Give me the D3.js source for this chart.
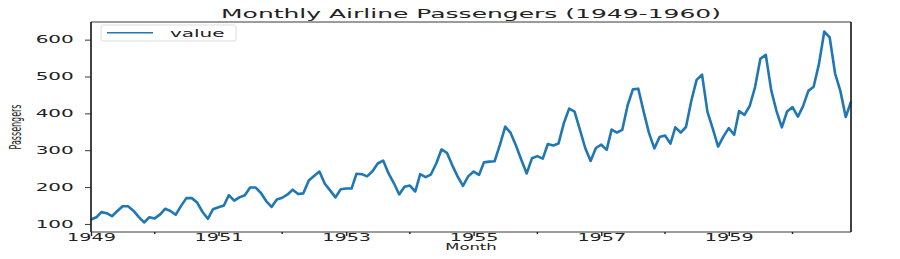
<!DOCTYPE html>
<html>
<head>
<meta charset="utf-8">
<script src="https://cdn.jsdelivr.net/npm/d3@7"></script>
<style>
  body { margin: 0; background: #fff; }
  svg { display: block; font-family: "DejaVu Sans", sans-serif; }
</style>
</head>
<body>
<svg id="chart"></svg>
<script>
// monthly totals, Jan 1949 .. Dec 1960
const years = [1949, 1950, 1951, 1952, 1953, 1954, 1955, 1956, 1957, 1958, 1959, 1960];
const passengers = [
  112, 118, 132, 129, 121, 135, 148, 148, 136, 119, 104, 118,
  115, 126, 141, 135, 125, 149, 170, 170, 158, 133, 114, 140,
  145, 150, 178, 163, 172, 178, 199, 199, 184, 162, 146, 166,
  171, 180, 193, 181, 183, 218, 230, 242, 209, 191, 172, 194,
  196, 196, 236, 235, 229, 243, 264, 272, 237, 211, 180, 201,
  204, 188, 235, 227, 234, 264, 302, 293, 259, 229, 203, 229,
  242, 233, 267, 269, 270, 315, 364, 347, 312, 274, 237, 278,
  284, 277, 317, 313, 318, 374, 413, 405, 355, 306, 271, 306,
  315, 301, 356, 348, 355, 422, 465, 467, 404, 347, 305, 336,
  340, 318, 362, 348, 363, 435, 491, 505, 404, 359, 310, 337,
  360, 342, 406, 396, 420, 472, 548, 559, 463, 407, 362, 405,
  417, 391, 419, 461, 472, 535, 622, 606, 508, 461, 390, 432
];
const majorYears = [1949, 1951, 1953, 1955, 1957, 1959];
const minorYears = [1950, 1952, 1954, 1956, 1958, 1960];
const yTicks = [100, 200, 300, 400, 500, 600];

const width = 900;
const height = 259;
const marginTop = 22;
const marginRight = 49;
const marginBottom = 27;
const marginLeft = 91;
const sx = 2; // the picture is stretched horizontally, text too

const data = passengers.map((v, i) => ({
  date: new Date(Date.UTC(years[0] + Math.floor(i / 12), i % 12, 1)),
  value: v
}));

const x = d3.scaleUtc()
  .domain(d3.extent(data, d => d.date))
  .range([marginLeft, width - marginRight]);
const pad = (d3.max(passengers) - d3.min(passengers)) * 0.05;
const y = d3.scaleLinear()
  .domain([d3.min(passengers) - pad, d3.max(passengers) + pad])
  .range([height - marginBottom, marginTop]);

const svg = d3.select("#chart")
  .attr("width", width)
  .attr("height", height)
  .attr("viewBox", [0, 0, width, height]);

const ink = "#222";
const bottom = height - marginBottom;

// data line
const line = d3.line()
  .x(d => x(d.date))
  .y(d => y(d.value));
svg.append("path")
  .attr("fill", "none")
  .attr("stroke", "#1f77b4")
  .attr("stroke-width", 2.6)
  .attr("stroke-linejoin", "round")
  .attr("d", line(data));

// x axis: labelled odd years, small ticks on even years
const yr = v => new Date(Date.UTC(v, 0, 1));
const xAxis = svg.append("g")
  .attr("transform", `translate(0,${bottom})`)
  .call(d3.axisBottom(x).tickValues(majorYears.map(yr)).tickFormat(d3.utcFormat("%Y")).tickSize(4).tickSizeOuter(0));
xAxis.select(".domain").remove();
xAxis.selectAll(".tick line").attr("stroke", ink).attr("stroke-width", 1.4);
xAxis.selectAll(".tick text")
  .attr("y", 9.5).attr("dy", 0)
  .attr("transform", `scale(${sx},1)`)
  .attr("x", 0)
  .attr("fill", ink).attr("font-size", 9.6).attr("font-family", "DejaVu Sans");
xAxis.selectAll(".tick text").each(function() {
  // keep label centred on the tick after stretching
  const t = d3.select(this);
  t.attr("text-anchor", "middle");
});
svg.append("g")
  .selectAll("line")
  .data(minorYears)
  .join("line")
  .attr("x1", d => x(yr(d))).attr("x2", d => x(yr(d)))
  .attr("y1", bottom).attr("y2", bottom + 2)
  .attr("stroke", ink).attr("stroke-width", 1.4);

// y axis
const yAxis = svg.append("g")
  .attr("transform", `translate(${marginLeft},0)`)
  .call(d3.axisLeft(y).tickValues(yTicks).tickSize(6).tickSizeOuter(0));
yAxis.select(".domain").remove();
yAxis.selectAll(".tick line").attr("stroke", ink).attr("stroke-width", 0.9);
yAxis.selectAll(".tick text")
  .attr("x", -8.6)
  .attr("transform", `scale(${sx},1)`)
  .attr("fill", ink).attr("font-size", 10).attr("font-family", "DejaVu Sans");

// frame
const frame = svg.append("g").attr("stroke", ink).attr("fill", "none");
frame.append("line").attr("x1", marginLeft).attr("x2", width - marginRight)
  .attr("y1", marginTop).attr("y2", marginTop).attr("stroke-width", 0.9);
frame.append("line").attr("x1", marginLeft).attr("x2", width - marginRight)
  .attr("y1", bottom).attr("y2", bottom).attr("stroke-width", 0.9);
frame.append("line").attr("x1", marginLeft).attr("x2", marginLeft)
  .attr("y1", marginTop).attr("y2", bottom).attr("stroke-width", 1.7);
frame.append("line").attr("x1", width - marginRight).attr("x2", width - marginRight)
  .attr("y1", marginTop).attr("y2", bottom).attr("stroke-width", 1.7);

// legend
const legend = svg.append("g").attr("transform", `translate(${marginLeft + 10},25)`);
legend.append("rect")
  .attr("width", 135).attr("height", 16).attr("rx", 2)
  .attr("fill", "#fff").attr("fill-opacity", 0.8)
  .attr("stroke", "#ddd").attr("stroke-width", 1);
legend.append("line")
  .attr("x1", 6).attr("x2", 52).attr("y1", 7.7).attr("y2", 7.7)
  .attr("stroke", "#1f77b4").attr("stroke-width", 1.4);
legend.append("text")
  .attr("transform", `translate(69,12) scale(${sx},1)`)
  .attr("fill", ink).attr("font-size", 10)
  .text("value");

// title
svg.append("text")
  .attr("transform", `translate(${(marginLeft + width - marginRight) / 2},18) scale(${sx},1)`)
  .attr("text-anchor", "middle")
  .attr("fill", ink).attr("font-size", 12.5)
  .text("Monthly Airline Passengers (1949-1960)");

// axis titles
svg.append("text")
  .attr("transform", `translate(${(marginLeft + width - marginRight) / 2},250) scale(${sx},1)`)
  .attr("text-anchor", "middle")
  .attr("fill", ink).attr("font-size", 8.2)
  .text("Month");
svg.append("text")
  .attr("transform", `translate(21,${(marginTop + bottom) / 2}) scale(${sx},1) rotate(-90)`)
  .attr("text-anchor", "middle")
  .attr("fill", ink).attr("font-size", 8)
  .text("Passengers");
</script>
</body>
</html>
